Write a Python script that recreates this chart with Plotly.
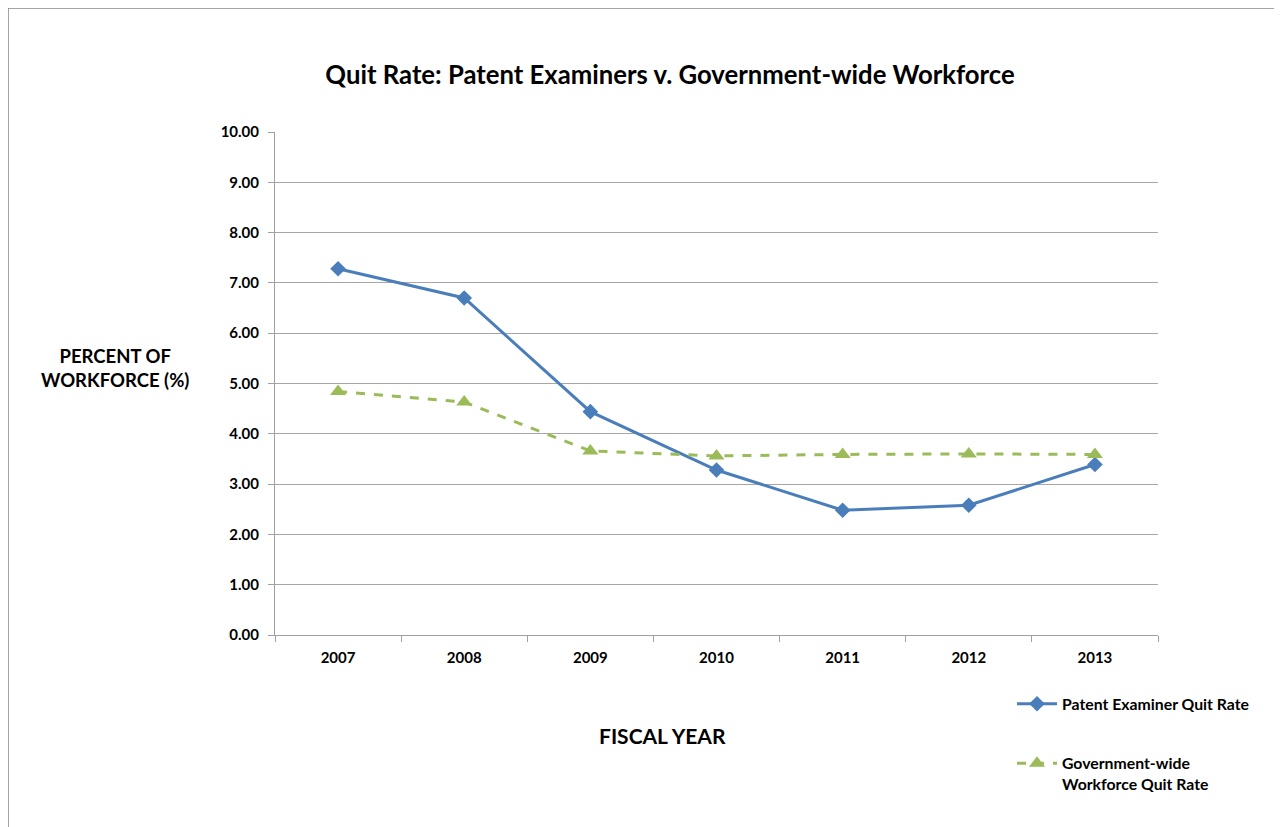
import plotly.graph_objects as go

years = ["2007", "2008", "2009", "2010", "2011", "2012", "2013"]
patent_rate = [7.28, 6.70, 4.44, 3.28, 2.48, 2.58, 3.39]
govt_rate = [4.84, 4.63, 3.66, 3.56, 3.59, 3.60, 3.59]
y_ticks = [0, 1, 2, 3, 4, 5, 6, 7, 8, 9, 10]

FONT = "Lato"
OFF = 8  # page body margin
W, H = 1282 - OFF, 827 - OFF
L, R, T, B = 275 - OFF, 124, 132 - OFF, 192
pw, ph = W - L - R, H - T - B


def px(xp):
    return (xp - OFF - L) / pw


def py(yp):
    return 1 - (yp - OFF - T) / ph


fig = go.Figure()
fig.add_trace(go.Scatter(
    x=years, y=patent_rate, mode="lines+markers",
    name="Patent Examiner Quit Rate", legendgroup="a",
    line=dict(color="#4A7EBB", width=3),
    marker=dict(symbol="diamond", size=12, color="#4A7EBB"),
))
fig.add_trace(go.Scatter(
    x=years, y=govt_rate, mode="lines+markers",
    name="Government-wide<br>Workforce Quit Rate", legendgroup="b",
    line=dict(color="#9BBB59", width=3, dash="dash"),
    marker=dict(symbol="triangle-up", size=14, color="#9BBB59"),
))

fig.update_layout(
    width=W, height=H,
    margin=dict(l=L, r=R, t=T, b=B),
    paper_bgcolor="white", plot_bgcolor="white",
    font=dict(family=FONT, color="black"),
    title=dict(
        text="<b>Quit Rate: Patent Examiners v. Government-wide Workforce</b>",
        x=(670 - OFF) / W, xanchor="center", y=1 - (75 - OFF) / H, yanchor="middle",
        font=dict(size=25.7, family=FONT, color="black"),
    ),
    xaxis=dict(
        type="category", range=[-0.5, len(years) - 0.5],
        tickson="boundaries", ticks="outside", ticklen=6,
        tickcolor="#A0A0A0", showline=True, linecolor="#A0A0A0", linewidth=1,
        showgrid=False, tickfont=dict(size=15, family=FONT, color="black", weight="bold"),
        ticklabelstandoff=9,
    ),
    yaxis=dict(
        range=[0, 10], tickvals=y_ticks, tickformat=".2f",
        ticks="outside", ticklen=6, tickcolor="#A0A0A0",
        showline=True, linecolor="#A0A0A0", linewidth=1,
        showgrid=True, gridcolor="#A6A6A6", gridwidth=1, zeroline=False,
        tickfont=dict(size=15, family=FONT, color="black", weight="bold"),
        ticklabelstandoff=6,
    ),
    showlegend=True,
    legend=dict(
        x=px(1012), xanchor="left",
        y=py(687), yanchor="top",
        tracegroupgap=36, valign="top",
        font=dict(size=15.8, family=FONT, color="black", weight="bold"),
        itemwidth=40, bgcolor="rgba(0,0,0,0)",
    ),
)

fig.add_annotation(
    text="<b>PERCENT OF<br>WORKFORCE (%)</b>", xref="paper", yref="paper",
    x=px(115), y=py(368),
    xanchor="center", yanchor="middle", showarrow=False, align="center",
    font=dict(size=18.5, family=FONT, color="black"),
)
fig.add_annotation(
    text="<b>FISCAL YEAR</b>", xref="paper", yref="paper",
    x=px(662), y=py(735),
    xanchor="center", yanchor="middle", showarrow=False,
    font=dict(size=21, family=FONT, color="black"),
)

# Outer chart frame (left and top edges visible)
fig.add_shape(
    type="rect", xref="paper", yref="paper",
    x0=px(8), x1=px(1320),
    y0=py(860), y1=py(8),
    line=dict(color="#888888", width=1.5), fillcolor="rgba(0,0,0,0)",
    layer="below",
)

fig.write_html("out.html")
